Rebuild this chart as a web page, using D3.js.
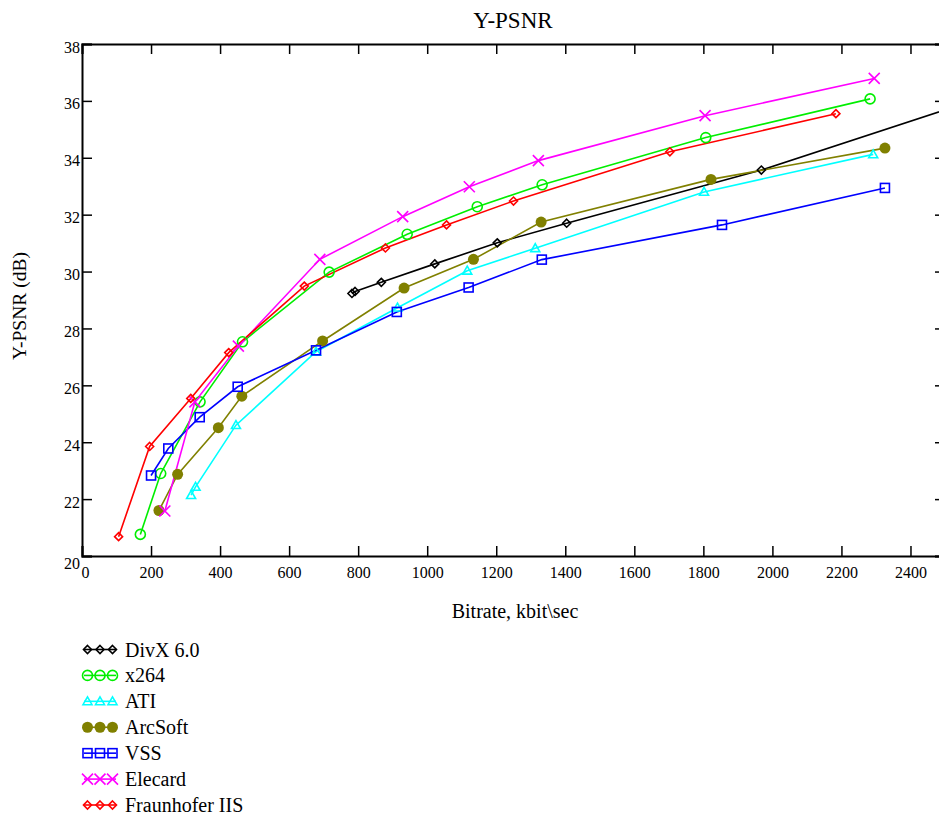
<!DOCTYPE html>
<html>
<head>
<meta charset="utf-8">
<script src="https://cdn.jsdelivr.net/npm/d3@7"></script>
<style>
  html, body { margin: 0; padding: 0; background: #fff; }
  svg { display: block; font-family: "Liberation Serif", "Times New Roman", serif; }
</style>
</head>
<body>
<svg id="chart" width="939" height="818"></svg>
<script>
// ---- data ----
const seriesNames = ["DivX 6.0", "x264", "ATI", "ArcSoft", "VSS", "Elecard", "Fraunhofer IIS"];
const seriesColors = ["#000000", "#00ee00", "#00ffff", "#808000", "#0000ff", "#ff00ff", "#ff0000"];
const seriesMarkers = ["diamond", "circle", "triangle", "dot", "square", "cross", "diamond"];

const divxX = [782, 791, 867, 1022, 1203, 1404, 1968, 2600];
const divxY = [29.23, 29.30, 29.62, 30.27, 31.01, 31.70, 33.57, 36.08];
const divxMarked = [true, true, true, true, true, true, true, false];

const x264X = [169, 228, 342, 465, 716, 942, 1145, 1333, 1807, 2283];
const x264Y = [20.76, 22.90, 25.42, 27.53, 29.98, 31.31, 32.28, 33.05, 34.71, 36.07];

const atiX = [316, 329, 446, 678, 914, 1116, 1313, 1802, 2292];
const atiY = [22.14, 22.43, 24.60, 27.18, 28.73, 30.03, 30.82, 32.80, 34.12];

const arcX = [223, 277, 395, 463, 697, 933, 1134, 1330, 1822, 2326];
const arcY = [21.60, 22.87, 24.51, 25.62, 27.56, 29.42, 30.43, 31.74, 33.24, 34.34];

const vssX = [200, 250, 341, 451, 678, 912, 1120, 1332, 1854, 2326];
const vssY = [22.83, 23.78, 24.88, 25.95, 27.23, 28.58, 29.44, 30.42, 31.64, 32.94];

const elecX = [240, 327, 453, 689, 929, 1122, 1322, 1805, 2295];
const elecY = [21.58, 25.42, 27.38, 30.43, 31.93, 32.98, 33.90, 35.48, 36.79];

const fraunX = [106, 196, 315, 425, 644, 879, 1056, 1250, 1703, 2184];
const fraunY = [20.68, 23.85, 25.54, 27.15, 29.49, 30.83, 31.64, 32.48, 34.21, 35.55];

const xTicks = [0, 200, 400, 600, 800, 1000, 1200, 1400, 1600, 1800, 2000, 2200, 2400];
const yTicks = [20, 22, 24, 26, 28, 30, 32, 34, 36, 38];

const titleText = "Y-PSNR";
const xTitle = "Bitrate, kbit\\sec";
const yTitle = "Y-PSNR (dB)";

// ---- build ----
const allX = [divxX, x264X, atiX, arcX, vssX, elecX, fraunX];
const allY = [divxY, x264Y, atiY, arcY, vssY, elecY, fraunY];
const series = seriesNames.map((name, i) => ({
  name, color: seriesColors[i], marker: seriesMarkers[i],
  points: allX[i].map((xv, j) => ({ x: xv, y: allY[i][j], marked: i === 0 ? divxMarked[j] : true }))
}));

const svg = d3.select("#chart");
const pLeft = 82, pRight = 945, pTop = 44, pBottom = 556;

const x = d3.scaleLinear().domain([0, 2500]).range([pLeft, pRight]);
const y = d3.scaleLinear().domain([20, 38]).range([pBottom, pTop]);

svg.append("defs").append("clipPath").attr("id", "plotclip")
  .append("rect").attr("x", pLeft).attr("y", pTop).attr("width", pRight - pLeft).attr("height", pBottom - pTop);

// title
svg.append("text").attr("x", 513).attr("y", 28).attr("text-anchor", "middle")
  .attr("font-size", 23).text(titleText);

// axes with inward ticks
const tickLen = 10;
const gB = svg.append("g").attr("transform", `translate(0,${pBottom})`)
  .call(d3.axisBottom(x).tickValues(xTicks).tickSize(-tickLen).tickPadding(0).tickFormat(d3.format("d")));
const gT = svg.append("g").attr("transform", `translate(0,${pTop})`)
  .call(d3.axisTop(x).tickValues(xTicks).tickSize(-tickLen).tickFormat(""));
const gL = svg.append("g").attr("transform", `translate(${pLeft},0)`)
  .call(d3.axisLeft(y).tickValues(yTicks).tickSize(-tickLen).tickFormat(d3.format("d")));
const gR = svg.append("g").attr("transform", `translate(${pRight},0)`)
  .call(d3.axisRight(y).tickValues(yTicks).tickSize(-tickLen).tickFormat(""));

[gB, gT, gL, gR].forEach(g => {
  g.select(".domain").attr("stroke", "#000").attr("stroke-width", 2);
  g.selectAll(".tick line").attr("stroke", "#000").attr("stroke-width", 1.5);
  g.selectAll("text").attr("font-family", "Liberation Serif, serif").attr("fill", "#000");
});
gB.selectAll(".tick text").attr("font-size", 16).attr("dy", null).attr("y", 22)
  .attr("dx", d => d === 0 ? 3 : 0);
gL.selectAll(".tick text").attr("font-size", 16).attr("x", -2)
  .attr("dy", d => d === 20 ? "0.75em" : "0.5em");

// axis titles
svg.append("text").attr("x", 515).attr("y", 618).attr("text-anchor", "middle")
  .attr("font-size", 20).text(xTitle);
svg.append("text").attr("transform", "translate(26,306) rotate(-90)")
  .attr("text-anchor", "middle").attr("font-size", 19.5).text(yTitle);

// markers
function drawMarker(g, type, cx, cy, color) {
  if (type === "diamond") {
    const h = 4;
    g.append("path").attr("d", `M${cx},${cy - h}L${cx + h},${cy}L${cx},${cy + h}L${cx - h},${cy}Z`)
      .attr("fill", "none").attr("stroke", color).attr("stroke-width", 1.6);
  } else if (type === "circle") {
    g.append("circle").attr("cx", cx).attr("cy", cy).attr("r", 5)
      .attr("fill", "none").attr("stroke", color).attr("stroke-width", 1.6);
  } else if (type === "dot") {
    g.append("circle").attr("cx", cx).attr("cy", cy).attr("r", 5.5).attr("fill", color);
  } else if (type === "square") {
    const h = 4.5;
    g.append("rect").attr("x", cx - h).attr("y", cy - h).attr("width", 2 * h).attr("height", 2 * h)
      .attr("fill", "none").attr("stroke", color).attr("stroke-width", 1.6);
  } else if (type === "triangle") {
    const h = 4.5;
    g.append("path").attr("d", `M${cx},${cy - h}L${cx + h},${cy + h * 0.75}L${cx - h},${cy + h * 0.75}Z`)
      .attr("fill", "none").attr("stroke", color).attr("stroke-width", 1.6);
  } else if (type === "cross") {
    const h = 5.5;
    g.append("path").attr("d", `M${cx - h},${cy - h}L${cx + h},${cy + h}M${cx - h},${cy + h}L${cx + h},${cy - h}`)
      .attr("stroke", color).attr("stroke-width", 1.6);
  }
}

const line = d3.line().x(d => x(d.x)).y(d => y(d.y));
const plot = svg.append("g").attr("clip-path", "url(#plotclip)");
series.forEach(s => {
  plot.append("path").datum(s.points).attr("d", line)
    .attr("fill", "none").attr("stroke", s.color).attr("stroke-width", 1.6);
});
series.forEach(s => {
  const g = plot.append("g");
  s.points.filter(p => p.marked).forEach(p => drawMarker(g, s.marker, x(p.x), y(p.y), s.color));
});

// legend
const legendY = d3.scalePoint().domain(seriesNames).range([649.5, 805]);
const lg = svg.append("g");
series.forEach(s => {
  const cy = legendY(s.name);
  lg.append("line").attr("x1", 84).attr("x2", 116).attr("y1", cy).attr("y2", cy)
    .attr("stroke", s.color).attr("stroke-width", 1.6);
  [87.5, 100, 112.5].forEach(cx => drawMarker(lg, s.marker, cx, cy, s.color));
  lg.append("text").attr("x", 125).attr("y", cy + 7).attr("font-size", 20).text(s.name);
});
</script>
</body>
</html>
